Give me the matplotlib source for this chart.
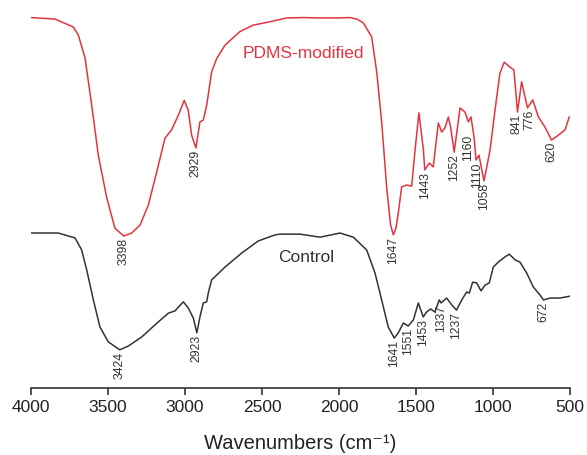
import numpy as np
import matplotlib
matplotlib.use("Agg")
import matplotlib.pyplot as plt

plt.rcParams['font.family'] = ['Liberation Sans', 'DejaVu Sans']

# PDMS-modified spectrum (wavenumber, transmittance a.u.)
pdms_wn = [4000, 3844, 3725, 3693, 3649, 3606, 3563, 3508, 3455, 3398, 3346, 3292,
           3238, 3184, 3130, 3087, 3043, 3005, 2979, 2957, 2929, 2903, 2881, 2859,
           2827, 2794, 2740, 2643, 2557, 2448, 2340, 2232, 2123, 2015, 1929, 1885,
           1842, 1788, 1755, 1723, 1690,
           1665, 1647, 1630, 1615, 1593, 1560, 1528, 1506, 1481, 1452, 1443, 1413,
           1388, 1355, 1333, 1312, 1290, 1275, 1252, 1214, 1182, 1160, 1143, 1123,
           1110, 1091, 1073, 1058, 1019, 987, 955, 927, 890, 864, 841, 814,
           792, 776, 742, 705, 662, 620, 575, 532, 505]
pdms_t = [98.0, 97.6, 95.5, 93.4, 87.3, 74.9, 61.6, 50.3, 42.3, 40.2, 41.0, 43.1,
          48.4, 57.1, 66.1, 68.3, 72.2, 76.1, 73.5, 66.9, 63.5, 70.4, 70.9, 74.9,
          83.6, 87.2, 90.7, 94.3, 96.0, 96.9, 97.9, 98.0, 97.9, 97.9, 98.0, 97.6,
          96.6, 92.9, 83.6, 70.4, 52.9,
          43.1, 40.5, 42.3, 46.3, 53.2, 53.7, 53.4, 63.0, 72.8, 63.0, 57.7, 59.5,
          58.5, 70.1, 67.7, 68.8, 71.7, 69.0, 62.4, 74.1, 73.0, 70.4, 71.7, 66.4,
          60.3, 61.6, 57.7, 54.8, 63.0, 73.5, 83.3, 86.2, 84.9, 84.1, 73.0, 81.0,
          77.0, 74.1, 76.2, 71.7, 69.0, 65.6, 66.9, 68.3, 71.7]

# Control spectrum
ctrl_wn = [4000, 3823, 3714, 3671, 3638, 3595, 3552, 3498, 3424, 3368, 3281, 3195,
           3108, 3065, 3011, 2979, 2946, 2923, 2903, 2881, 2859, 2849, 2827, 2740,
           2632, 2524, 2416, 2383, 2253, 2123, 1994, 1907, 1820, 1766, 1723, 1680,
           1641, 1615, 1582, 1551, 1517, 1485, 1453, 1431, 1405, 1377, 1349, 1337,
           1301, 1268, 1237, 1203, 1171, 1154, 1132, 1106, 1078, 1052, 1024, 998,
           966, 922, 894, 857, 825, 781, 738, 695, 672, 630, 565, 500]
ctrl_t = [41.0, 41.0, 39.7, 36.5, 31.2, 23.3, 16.1, 12.2, 10.1, 11.1, 13.5, 16.7,
          19.8, 20.4, 22.8, 21.2, 18.5, 14.6, 18.8, 22.5, 22.8, 25.1, 28.6, 32.0,
          35.7, 38.9, 40.5, 40.7, 40.7, 39.9, 41.0, 39.9, 36.5, 30.4, 23.3, 16.1,
          13.2, 14.6, 17.2, 16.4, 18.0, 22.5, 18.8, 20.1, 20.9, 20.1, 23.3, 22.5,
          23.8, 22.0, 20.6, 23.3, 25.4, 25.1, 28.0, 27.8, 25.7, 27.2, 27.8, 32.0,
          33.3, 34.7, 35.4, 33.9, 33.3, 30.4, 26.7, 24.6, 23.3, 23.8, 23.8, 24.3]

pdms_peaks = [3398, 2929, 1647, 1443, 1252, 1160, 1110, 1058, 841, 776, 620]
ctrl_peaks = [3424, 2923, 1641, 1551, 1453, 1337, 1237, 672]

RED = '#e3343f'
BLACK = '#333333'

fig = plt.figure(figsize=(5.87, 4.55), dpi=100)
ax = fig.add_axes([31 / 587, 67 / 455, 539 / 587, 378 / 455])

ax.plot(pdms_wn, pdms_t, color=RED, lw=1.1)
ax.plot(ctrl_wn, ctrl_t, color=BLACK, lw=1.1)


def label_peaks(wn, t, peaks, shift=None):
    # shift: small (dx, dy) nudges in points so close labels don't collide
    shift = shift or {}
    xs = np.array(wn)[::-1]
    ys = np.array(t)[::-1]
    for p in peaks:
        y = np.interp(p, xs, ys)
        dx, dy = shift.get(p, (0, 0))
        ax.annotate(str(p), xy=(p, y), xytext=(dx, -1.5 + dy),
                    textcoords='offset points', rotation=90, ha='center',
                    va='top', fontsize=8.8, color='#333333')


label_peaks(pdms_wn, pdms_t, pdms_peaks,
            shift={1160: (0, -8), 841: (-0.7, 0), 776: (1.7, 0), 1110: (1, 0)})
label_peaks(ctrl_wn, ctrl_t, ctrl_peaks)

ax.text(2234, 88.6, 'PDMS-modified', color=RED, fontsize=12.5,
        ha='center', va='center')
ax.text(2214, 34.4, 'Control', color=BLACK, fontsize=12.5,
        ha='center', va='center')

ax.set_xlim(4000, 500)
ax.set_ylim(0, 100)
ax.set_xticks([4000, 3500, 3000, 2500, 2000, 1500, 1000, 500])
ax.set_yticks([])
for s in ['top', 'right', 'left']:
    ax.spines[s].set_visible(False)
ax.spines['bottom'].set_linewidth(1.2)
ax.spines['bottom'].set_color('#333333')
ax.tick_params(axis='x', direction='out', length=5, width=1.2,
               color='#333333', labelsize=12.5, labelcolor='#222222', pad=4)
ax.set_xlabel('Wavenumbers (cm\u207b\u00b9)', fontsize=14.5, color='#222222',
              labelpad=13)

fig.savefig('out.png', dpi=100)
